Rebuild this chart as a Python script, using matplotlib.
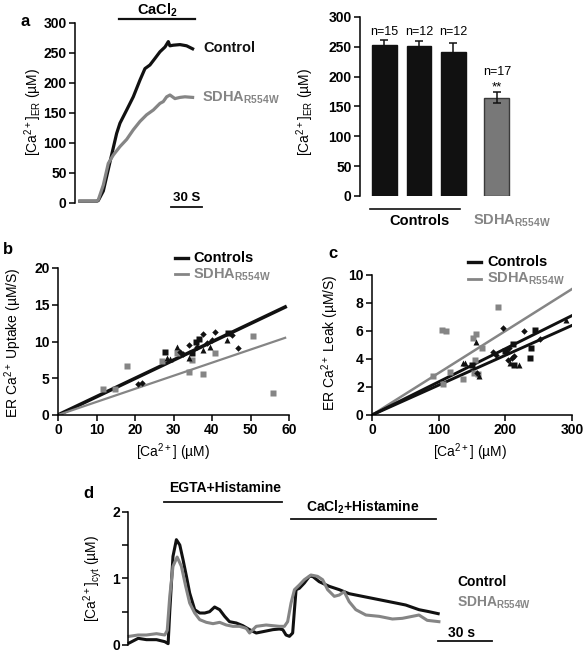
import matplotlib
matplotlib.use('Agg')
import matplotlib.pyplot as plt
from matplotlib.lines import Line2D

plt.rcParams['font.family'] = ['Liberation Sans', 'DejaVu Sans']
plt.rcParams['mathtext.fontset'] = 'custom'
plt.rcParams['mathtext.rm'] = 'Liberation Sans'
plt.rcParams['mathtext.it'] = 'Liberation Sans:italic'
plt.rcParams['mathtext.bf'] = 'Liberation Sans:bold'
plt.rcParams['axes.linewidth'] = 1.1

BLACK = '#111111'
GRAY = '#858585'

# ---- panel a, ER calcium refilling traces (time in s, [Ca2+]ER in uM)
a_ctrl_t = [0, 8, 16, 17.7, 22.6, 25.8, 29, 35.5, 38.7, 45.2, 51.6, 58.1, 62.9, 67.7,
            72.6, 77.4, 82.3, 85.5, 87, 90.3, 96.8, 103.2, 109]
a_ctrl_v = [3, 3, 3, 4, 20, 44, 68, 116, 133, 155, 177, 205, 224, 230,
            241, 252, 260, 269, 262, 263, 264, 262, 257]
a_sdha_t = [0, 8, 16, 17.7, 22.6, 27.4, 32.3, 38.7, 45.2, 51.6, 58.1, 64.5, 71, 77.4,
            80.6, 83.9, 87.1, 91.9, 96.8, 101.6, 109]
a_sdha_v = [3, 3, 3, 5, 30, 66, 80, 94, 106, 122, 136, 147, 155, 166,
            169, 177, 180, 174, 176, 177, 176]
a_cacl2_bar = [37.7, 111]

# ---- panel a, bar chart
bar_vals = [253, 252, 241, 165]
bar_err = [9, 8, 15, 9]
bar_n = ['n=15', 'n=12', 'n=12', 'n=17']
bar_pos = [0, 1, 2, 3.26]

# ---- panel b, uptake vs [Ca2+]
b_gray_x = [11.8, 14.8, 17.8, 26.9, 30.8, 33.9, 34.9, 37.7, 40.8, 50.7, 55.8]
b_gray_y = [3.5, 3.5, 6.7, 7.3, 8.5, 5.9, 7.5, 5.6, 8.4, 10.7, 3.0]
b_sq_x = [27.8, 34.7, 35.8, 36.7, 44.2]
b_sq_y = [8.6, 8.5, 10.0, 10.4, 11.2]
b_tri_x = [28.2, 29.2, 30.8, 33.9, 37.7, 39.5, 43.8]
b_tri_y = [7.7, 7.6, 9.2, 7.7, 8.8, 9.3, 10.2]
b_dia_x = [20.9, 21.7, 31.7, 33.9, 37.7, 38.6, 39.9, 40.8, 45.1, 46.8, 32.5, 36]
b_dia_y = [4.2, 4.3, 8.6, 9.5, 11.0, 9.8, 10.2, 11.3, 10.9, 9.1, 8.3, 9.2]
b_slope_ctrl = 0.249
b_slope_sdha = 0.178

# ---- panel c, leak vs [Ca2+]
c_gray_x = [91, 104.5, 110.5, 107, 117, 137, 151, 155.5, 154.5, 159.5, 153, 164.5, 188.5]
c_gray_y = [2.8, 6.1, 6.0, 2.2, 3.1, 2.6, 5.5, 5.8, 3.9, 2.9, 3.0, 4.8, 7.7]
c_tri_x = [137, 140, 155.5, 161, 220.5, 291, 207]
c_tri_y = [3.7, 3.7, 5.2, 2.8, 3.6, 6.8, 3.7]
c_dia_x = [157.5, 197, 182, 186.7, 202, 203.5, 210, 213.5, 228.5, 252, 206]
c_dia_y = [3.0, 6.2, 4.5, 4.3, 4.5, 3.9, 4.1, 4.2, 6.0, 5.4, 4.8]
c_sq_x = [212, 244.5, 238, 237, 212.5, 199, 150]
c_sq_y = [5.1, 6.1, 4.8, 4.1, 3.6, 4.6, 3.6]
c_slopes_ctrl = [0.02367, 0.02133]
c_slope_sdha = 0.030

# ---- panel d, cytosolic calcium traces (time in s, uM)
d_ctrl_t = [0, 5, 9.6, 15.2, 19.8, 21.7, 22.6, 24.4, 26.3, 28.2, 30, 31.9, 33.7, 36.5, 39.3,
            42.1, 44.8, 47.6, 50.4, 53.2, 55.9, 59.7, 63.3, 67.1, 70.8, 74.5, 80, 83.7,
            85.6, 87.4, 89.3, 91.1, 92.1, 93, 94.8, 97.6, 100.4, 102.2, 105.9, 111.5,
            117.1, 122.6, 130, 139.3, 148.6, 154.1, 161.5, 167.1, 172.2]
d_ctrl_v = [0.03, 0.1, 0.08, 0.08, 0.05, 0.02, 0.5, 1.33, 1.58, 1.5, 1.28, 1.03, 0.78, 0.53, 0.48,
            0.48, 0.5, 0.57, 0.53, 0.43, 0.35, 0.33, 0.29, 0.23, 0.18, 0.2, 0.23, 0.24,
            0.23, 0.15, 0.13, 0.18, 0.53, 0.83, 0.85, 0.93, 1.03, 1.03, 0.95, 0.88,
            0.83, 0.77, 0.73, 0.68, 0.63, 0.6, 0.53, 0.5, 0.47]
d_sdha_t = [0, 5, 9.6, 15.2, 19.8, 21.2, 22.6, 24.4, 26.7, 29.1, 31.5, 33.7, 36.5, 39.3, 43,
            46.7, 50.4, 54.1, 57.8, 61.5, 65.2, 67.1, 70.8, 76.3, 83.7,
            86.5, 88.3, 90.2, 92.1, 94.8, 97.6, 101.3, 105, 107.8, 110.6, 114.3, 117.1,
            119.8, 122.6, 126.3, 131.9, 139.3, 146.7, 152.2, 157.8, 161.5, 166.1, 172.6]
d_sdha_v = [0.13, 0.15, 0.15, 0.17, 0.15, 0.22, 0.73, 1.18, 1.32, 1.18, 0.88, 0.63, 0.48, 0.38, 0.34,
            0.32, 0.34, 0.3, 0.28, 0.28, 0.25, 0.18, 0.28, 0.3, 0.28,
            0.28, 0.35, 0.63, 0.83, 0.9, 0.98, 1.05, 1.03, 0.98, 0.83, 0.73, 0.75,
            0.8, 0.65, 0.53, 0.45, 0.43, 0.39, 0.4, 0.43, 0.45, 0.37, 0.35]
d_egta_bar = [19.3, 85.4]
d_cacl2_bar = [90.2, 171.1]

W, H = 584, 653
fig = plt.figure(figsize=(W / 100, H / 100), dpi=100)


def add_ax(l, t, r, b):
    return fig.add_axes([l / W, 1 - b / H, (r - l) / W, (b - t) / H])


def ftext(x, y, s, **kw):
    kw.setdefault('ha', 'left')
    kw.setdefault('va', 'center')
    fig.text(x / W, 1 - y / H, s, **kw)


def fline(x0, x1, y, **kw):
    fig.add_artist(Line2D([x0 / W, x1 / W], [1 - y / H, 1 - y / H],
                          transform=fig.transFigure, **kw))


def style(ax, bottom=True):
    for s in ['top', 'right']:
        ax.spines[s].set_visible(False)
    if not bottom:
        ax.spines['bottom'].set_visible(False)
    ax.tick_params(direction='out', length=4, width=1.1, pad=2, labelsize=10)
    for lab in ax.get_xticklabels() + ax.get_yticklabels():
        lab.set_fontweight('bold')


sdha_lbl = r'SDHA$_{\mathbf{R554W}}$'

# ================= panel a, traces
ax = add_ax(75, 23, 205, 203)
ax.plot(a_ctrl_t, a_ctrl_v, color=BLACK, lw=2.3, clip_on=False)
ax.plot(a_sdha_t, a_sdha_v, color=GRAY, lw=2.3, clip_on=False)
ax.set_xlim(-4.8, 121)
ax.set_ylim(0, 300)
ax.set_yticks(range(0, 301, 50))
ax.set_xticks([])
style(ax, bottom=False)
ax.plot(a_cacl2_bar, [306, 306], color=BLACK, lw=1.6, clip_on=False)
ax.plot([88, 118], [-7, -7], color=BLACK, lw=1.3, clip_on=False)
ftext(157, 10, r'CaCl$_{\mathbf{2}}$', ha='center', fontsize=10.5, fontweight='bold')
ftext(187, 198, '30 S', ha='center', fontsize=9.5, fontweight='bold')
ftext(203, 48, 'Control', fontsize=10.5, fontweight='bold', color=BLACK)
ftext(202, 98, sdha_lbl, fontsize=10.5, fontweight='bold', color=GRAY)
ftext(33, 112, '[Ca$^{2+}$]$_{\\mathrm{ER}}$ (µM)', ha='center', rotation=90, fontsize=10)
ftext(25, 22, 'a', ha='center', fontsize=12, fontweight='bold')

# ================= panel a, bar chart
ax = add_ax(360, 17, 530, 196)
ax.bar(bar_pos[:3], bar_vals[:3], width=0.72, color=BLACK, edgecolor=BLACK, zorder=2)
ax.bar(bar_pos[3], bar_vals[3], width=0.72, color='#787878', edgecolor='#3a3a3a', lw=1.0, zorder=2)
ax.errorbar(bar_pos, bar_vals, yerr=bar_err, fmt='none', ecolor=BLACK, elinewidth=1.1,
            capsize=3, capthick=1.1, zorder=3)
for i in range(3):
    ax.text(bar_pos[i], 275, bar_n[i], ha='center', va='center', fontsize=9)
ax.text(bar_pos[3], 208, bar_n[3], ha='center', va='center', fontsize=9)
ax.text(bar_pos[3], 177, '**', ha='center', va='baseline', fontsize=9.5)
ax.set_xlim(-0.71, 4.22)
ax.set_ylim(0, 300)
ax.set_yticks(range(0, 301, 50))
ax.set_xticks([])
style(ax, bottom=False)
fline(370, 460, 209, color=BLACK, lw=1.2)
ftext(419, 221, 'Controls', ha='center', fontsize=10.5, fontweight='bold')
ftext(512, 221, sdha_lbl, ha='center', fontsize=10.5, fontweight='bold', color=GRAY)
ftext(305, 112, '[Ca$^{2+}$]$_{\\mathrm{ER}}$ (µM)', ha='center', rotation=90, fontsize=10)

# ================= panel b
ax = add_ax(58, 268, 289, 415)
xb = [0.5, 59]
ax.plot(xb, [b_slope_ctrl * x for x in xb], color=BLACK, lw=2.6, zorder=2)
ax.plot(xb, [b_slope_sdha * x for x in xb], color=GRAY, lw=1.6, zorder=2)
ax.plot(b_gray_x, b_gray_y, 's', color=GRAY, ms=4, mec='none', zorder=3)
ax.plot(b_sq_x, b_sq_y, 's', color=BLACK, ms=4, mec='none', zorder=3)
ax.plot(b_tri_x, b_tri_y, '^', color=BLACK, ms=4.5, mec='none', zorder=3)
ax.plot(b_dia_x, b_dia_y, 'D', color=BLACK, ms=3.3, mec='none', zorder=3)
ax.set_xlim(0, 60)
ax.set_ylim(0, 20)
ax.set_xticks(range(0, 61, 10))
ax.set_yticks(range(0, 21, 5))
style(ax)
ftext(173, 452, '[Ca$^{2+}$] (µM)', ha='center', fontsize=10)
ftext(13, 343, 'ER Ca$^{2+}$ Uptake (µM/S)', ha='center', rotation=90, fontsize=10)
fline(175, 188, 258, color=BLACK, lw=2.4)
fline(175, 188, 274, color=GRAY, lw=2.0)
ftext(193, 258, 'Controls', fontsize=10.5, fontweight='bold')
ftext(193, 275, sdha_lbl, fontsize=10.5, fontweight='bold', color=GRAY)
ftext(8, 250, 'b', ha='center', fontsize=12, fontweight='bold')

# ================= panel c
ax = add_ax(372, 275, 572, 415)
xc = [0, 300]
ax.plot(xc, [c_slope_sdha * x for x in xc], color=GRAY, lw=1.8, zorder=2)
for s in c_slopes_ctrl:
    ax.plot(xc, [s * x for x in xc], color=BLACK, lw=2.1, zorder=2)
ax.plot(c_gray_x, c_gray_y, 's', color=GRAY, ms=4, mec='none', zorder=3)
ax.plot(c_sq_x, c_sq_y, 's', color=BLACK, ms=4, mec='none', zorder=3)
ax.plot(c_tri_x, c_tri_y, '^', color=BLACK, ms=4.5, mec='none', zorder=3)
ax.plot(c_dia_x, c_dia_y, 'D', color=BLACK, ms=3.3, mec='none', zorder=3)
ax.set_xlim(0, 300)
ax.set_ylim(0, 10)
ax.set_xticks(range(0, 301, 100))
ax.set_yticks(range(0, 11, 2))
style(ax)
ftext(470, 452, '[Ca$^{2+}$] (µM)', ha='center', fontsize=10)
ftext(330, 343, 'ER Ca$^{2+}$ Leak (µM/S)', ha='center', rotation=90, fontsize=10)
fline(468, 481, 262, color=BLACK, lw=2.4)
fline(468, 481, 279, color=GRAY, lw=2.0)
ftext(487, 262, 'Controls', fontsize=10.5, fontweight='bold')
ftext(487, 279, sdha_lbl, fontsize=10.5, fontweight='bold', color=GRAY)
ftext(333, 253, 'c', ha='center', fontsize=12, fontweight='bold')

# ================= panel d
ax = add_ax(128.3, 511.7, 445, 645)
ax.plot(d_ctrl_t, d_ctrl_v, color=BLACK, lw=2.2, clip_on=False)
ax.plot(d_sdha_t, d_sdha_v, color=GRAY, lw=2.2, clip_on=False)
ax.set_xlim(-0.5, 176)
ax.set_ylim(0, 2)
ax.set_yticks([0, 1, 2])
ax.set_yticks([0.5, 1.5], minor=True)
ax.set_xticks([])
style(ax, bottom=False)
ax.tick_params(which='minor', direction='out', length=4, width=1.1)
ax.plot(d_egta_bar, [2.15, 2.15], color=BLACK, lw=1.3, clip_on=False)
ax.plot(d_cacl2_bar, [1.885, 1.885], color=BLACK, lw=1.3, clip_on=False)
ax.plot([172.2, 202.2], [0.06, 0.06], color=BLACK, lw=1.3, clip_on=False)
ftext(225, 488, 'EGTA+Histamine', ha='center', fontsize=10, fontweight='bold')
ftext(363, 507, r'CaCl$_{\mathbf{2}}$+Histamine', ha='center', fontsize=10, fontweight='bold')
ftext(462, 633, '30 s', ha='center', fontsize=10, fontweight='bold')
ftext(457, 582, 'Control', fontsize=10, fontweight='bold')
ftext(457, 603, sdha_lbl, fontsize=10, fontweight='bold', color=GRAY)
ftext(93, 578, '[Ca$^{2+}$]$_{\\mathrm{cyt}}$ (µM)', ha='center', rotation=90, fontsize=10)
ftext(88, 493, 'd', ha='center', fontsize=12, fontweight='bold')

fig.savefig('out.png', dpi=100)
